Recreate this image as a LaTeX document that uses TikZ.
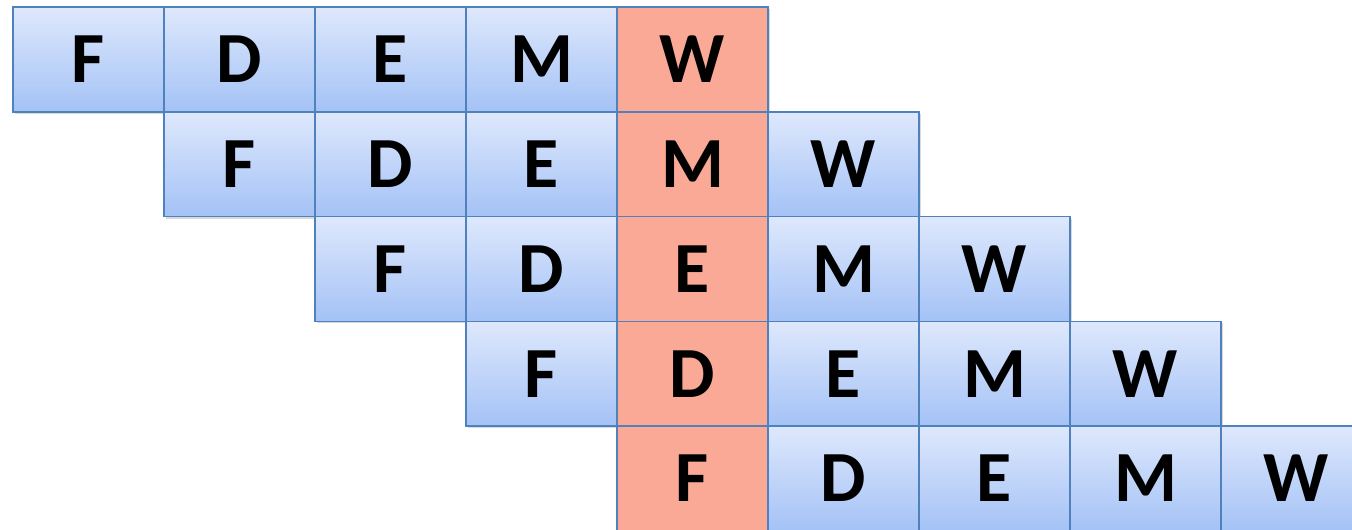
\documentclass[tikz,border=0pt]{standalone}
\usepackage{fontspec}
\setmainfont{Carlito}
\usetikzlibrary{shadows}
\definecolor{cellTop}{RGB}{222,232,252}
\definecolor{cellBot}{RGB}{164,194,246}
\definecolor{cellLine}{RGB}{79,129,189}
\definecolor{hot}{RGB}{250,169,150}
\tikzset{
  cell/.style={draw=cellLine, line width=1.5pt, minimum width=151pt, minimum height=104.8pt,
    inner sep=0pt, outer sep=0pt, anchor=north west, font=\fontsize{72}{72}\selectfont\bfseries,
    top color=cellTop, bottom color=cellBot,
    drop shadow={shadow xshift=2pt, shadow yshift=-2pt, opacity=0.25, fill=black!60}},
  hotcell/.style={cell, fill=hot, top color=hot, bottom color=hot}
}
\begin{document}
\begin{tikzpicture}[x=1pt,y=1pt]
\useasboundingbox (0,0) rectangle (1352,-530);
\clip (0,0) rectangle (1352,-530);
\foreach \r in {0,...,4}{
  \foreach \c/\t in {0/F,1/D,2/E,3/M,4/W}{
    \pgfmathtruncatemacro{\s}{\r+\c}
    \ifnum\s=4
      \node[hotcell] (c-\r-\c) at ({13+151*\s},{-7-104.8*\r}) {\t};
    \else
      \node[cell] (c-\r-\c) at ({13+151*\s},{-7-104.8*\r}) {\t};
    \fi
  }
}
\end{tikzpicture}
\end{document}
